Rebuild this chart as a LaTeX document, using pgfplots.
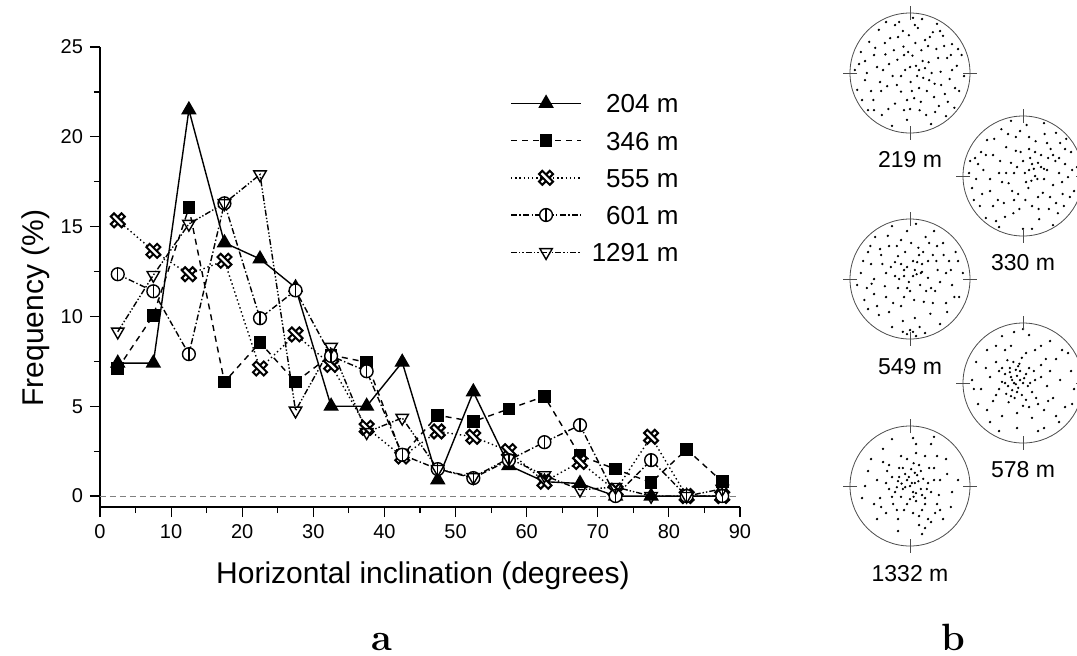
\documentclass[border=0pt]{standalone}
\usepackage{fontspec}
\usepackage{pgfplots}
\pgfplotsset{compat=1.18}
\newfontfamily\arial{Liberation Sans}
\newcommand{\tickfont}{\arial\fontsize{10}{12}\selectfont}
\newcommand{\labelfont}{\arial\fontsize{15}{18}\selectfont}
\newcommand{\legfont}{\arial\fontsize{13}{15}\selectfont}
\newcommand{\netfont}{\arial\fontsize{11.5}{14}\selectfont}

% hollow cross made of two outlined bars (555 m)
\pgfdeclareplotmark{xhatch}{%
  \pgfpathmoveto{\pgfqpoint{0.495\pgfplotmarksize}{0.919\pgfplotmarksize}}%
  \pgfpathlineto{\pgfqpoint{0.919\pgfplotmarksize}{0.495\pgfplotmarksize}}%
  \pgfpathlineto{\pgfqpoint{-0.495\pgfplotmarksize}{-0.919\pgfplotmarksize}}%
  \pgfpathlineto{\pgfqpoint{-0.919\pgfplotmarksize}{-0.495\pgfplotmarksize}}%
  \pgfpathclose
  \pgfusepathqfillstroke
  \pgfpathmoveto{\pgfqpoint{-0.495\pgfplotmarksize}{0.919\pgfplotmarksize}}%
  \pgfpathlineto{\pgfqpoint{-0.919\pgfplotmarksize}{0.495\pgfplotmarksize}}%
  \pgfpathlineto{\pgfqpoint{0.495\pgfplotmarksize}{-0.919\pgfplotmarksize}}%
  \pgfpathlineto{\pgfqpoint{0.919\pgfplotmarksize}{-0.495\pgfplotmarksize}}%
  \pgfpathclose
  \pgfusepathqfillstroke
}
% open circle with a vertical bar (601 m)
\pgfdeclareplotmark{phi}{%
  \pgfpathcircle{\pgfpointorigin}{\pgfplotmarksize}%
  \pgfusepathqfillstroke
  \pgfpathmoveto{\pgfqpoint{0pt}{-\pgfplotmarksize}}%
  \pgfpathlineto{\pgfqpoint{0pt}{\pgfplotmarksize}}%
  \pgfusepathqstroke
}

\pgfplotsset{
  net/.style={scale only axis, width=60pt, height=60pt, xmin=-1, xmax=1,
    ymin=-1, ymax=1, hide axis, anchor=center, clip=false},
  dots/.style={only marks, mark=*, mark size=0.35pt, black},
}

\begin{document}
\begin{tikzpicture}
\path[use as bounding box] (0pt,0pt) rectangle (538.5pt,-327.5pt);

\begin{axis}[
  at={(50pt,-253.5pt)}, anchor=south west,
  scale only axis, width=320pt, height=230pt,
  xmin=0, xmax=90, ymin=-0.61, ymax=25,
  axis lines=left, axis line style={-, line width=0.6pt},
  xtick={0,10,...,90}, minor xtick={5,15,...,85},
  ytick={0,5,...,25}, minor ytick={2.5,7.5,...,22.5},
  tick align=outside, major tick length=5pt, minor tick length=3pt,
  tick style={black, line width=0.6pt},
  ticklabel style={font=\tickfont},
  /pgf/number format/assume math mode=true,
  clip=false,
  every axis plot/.append style={black, line width=0.7pt},
  legend cell align=right,
  legend style={at={(0.6406,0.8987)}, anchor=north west, draw=none, fill=none,
    font=\legfont, inner sep=0pt, row sep=9.2pt, column sep=5pt,
    nodes={inner sep=0pt, text height=9.4pt, text depth=0pt}},
  legend image code/.code={%
    \draw[#1, mark repeat=2, mark phase=2] plot coordinates {(0pt,0pt) (17.5pt,0pt) (35pt,0pt)};},
]
\addplot[gray, line width=0.4pt, dash pattern=on 3pt off 2pt, forget plot] coordinates {(0,0) (90,0)};

\addplot[solid, mark=triangle*, mark size=3.8pt, mark options={solid}] coordinates {
  (2.5,7.4) (7.5,7.4) (12.5,21.5) (17.5,14.1) (22.5,13.2) (27.5,11.6)
  (32.5,5.0) (37.5,5.0) (42.5,7.45) (47.5,0.9) (52.5,5.8) (57.5,1.7)
  (62.5,0.8) (67.5,0.7) (72.5,0) (77.5,0) (82.5,0) (87.5,0)};
\addlegendentry{204 m}

\addplot[dash pattern=on 3pt off 2.5pt, mark=square*, mark size=2.8pt, mark options={solid}] coordinates {
  (2.5,7.1) (7.5,10.05) (12.5,16.05) (17.5,6.35) (22.5,8.55) (27.5,6.35)
  (32.5,7.85) (37.5,7.45) (42.5,2.25) (47.5,4.5) (52.5,4.15) (57.5,4.85)
  (62.5,5.55) (67.5,2.25) (72.5,1.5) (77.5,0.75) (82.5,2.6) (87.5,0.8)};
\addlegendentry{346 m}

\addplot[dash pattern=on 0.7pt off 1.4pt, mark=xhatch, mark size=3.8pt, mark options={solid, fill=white, line width=1pt}] coordinates {
  (2.5,15.35) (7.5,13.65) (12.5,12.35) (17.5,13.1) (22.5,7.1) (27.5,9.0)
  (32.5,7.3) (37.5,3.8) (42.5,2.2) (47.5,3.6) (52.5,3.3) (57.5,2.5)
  (62.5,0.8) (67.5,1.9) (72.5,0.3) (77.5,3.3) (82.5,0) (87.5,0)};
\addlegendentry{555 m}

\addplot[dash pattern=on 3pt off 1.2pt on 0.7pt off 1.2pt, mark=phi, mark size=3.2pt, mark options={solid, fill=white}] coordinates {
  (2.5,12.35) (7.5,11.4) (12.5,7.9) (17.5,16.3) (22.5,9.9) (27.5,11.45)
  (32.5,7.8) (37.5,6.95) (42.5,2.3) (47.5,1.5) (52.5,1.0) (57.5,2.0)
  (62.5,3.0) (67.5,3.95) (72.5,0) (77.5,2.0) (82.5,0) (87.5,0)};
\addlegendentry{601 m}

\addplot[dash pattern=on 3pt off 1pt on 0.7pt off 1pt on 0.7pt off 1pt, mark=triangle, mark size=3.6pt, mark options={solid, fill=white, rotate=180}] coordinates {
  (2.5,9.15) (7.5,12.3) (12.5,15.15) (17.5,16.3) (22.5,17.9) (27.5,4.75)
  (32.5,8.3) (37.5,3.55) (42.5,4.35) (47.5,1.5) (52.5,1.05) (57.5,2.1)
  (62.5,1.15) (67.5,0.35) (72.5,0.5) (77.5,0) (82.5,0) (87.5,0.4)};
\addlegendentry{1291 m}
\end{axis}

\node[anchor=base, font=\labelfont] at (211.5pt,-291.5pt) {Horizontal inclination (degrees)};
\node[anchor=base, rotate=90, font=\labelfont] at (21.5pt,-154pt) {Frequency (\%)};

% stereonets
\begin{axis}[net, at={(455pt,-36.5pt)}]
\addplot[dots] coordinates {
  (-0.82,0.35) (-0.75,-0.12) (-0.68,0.52) (-0.61,-0.45) (-0.55,0.10) (-0.52,0.72)
  (-0.47,-0.70) (-0.41,0.31) (-0.38,-0.22) (-0.33,0.58) (-0.29,-0.05) (-0.25,-0.51)
  (-0.21,0.22) (-0.18,0.85) (-0.15,-0.31) (-0.11,0.44) (-0.08,0.05) (-0.05,-0.78)
  (-0.02,0.63) (0.01,-0.15) (0.04,0.29) (0.07,-0.42) (0.10,0.12) (0.13,0.75)
  (0.16,-0.62) (0.19,0.38) (0.22,-0.08) (0.25,0.55) (0.28,-0.30) (0.31,0.18)
  (0.35,-0.85) (0.38,0.68) (0.41,-0.18) (0.44,0.40) (0.48,-0.55) (0.51,0.02)
  (0.55,0.62) (0.58,-0.35) (0.62,0.25) (0.66,-0.10) (0.70,0.48) (0.74,-0.58)
  (0.78,0.12) (0.82,-0.30) (0.86,0.30) (0.90,-0.05) (-0.88,-0.28) (-0.92,0.05)
  (-0.70,-0.62) (-0.30,-0.88) (0.05,0.92) (-0.40,0.85) (0.45,0.82) (0.60,-0.72)
  (-0.15,-0.05) (0.00,0.10) (-0.60,0.30) (0.30,0.45) (-0.48,-0.30) (0.15,-0.25)
  (0.25,0.08) (-0.20,0.60) (0.70,0.05) (-0.75,0.20) (-0.05,-0.45) (0.40,-0.40)
  (-0.65,-0.30) (-0.58,0.42) (-0.45,0.05) (-0.36,-0.60) (-0.27,0.38) (-0.22,-0.20)
  (-0.12,0.70) (-0.10,-0.62) (-0.03,0.35) (0.03,-0.30) (0.09,0.50) (0.12,-0.05)
  (0.18,-0.48) (0.21,0.20) (0.27,-0.70) (0.33,0.60) (0.36,0.00) (0.42,-0.65)
  (0.47,0.25) (0.52,-0.20) (0.57,0.45) (0.63,-0.48) (0.68,0.30) (0.75,-0.25)
  (0.80,0.40) (-0.80,-0.45) (-0.85,0.15) (-0.72,0.00) (-0.50,-0.15) (-0.35,0.15)
  (-0.25,0.80) (0.00,-0.60) (0.08,0.80) (0.20,0.90) (-0.10,0.30) (0.15,0.05)
  (0.32,-0.12) (-0.42,0.50) (0.50,0.70) (-0.60,-0.62)};
\end{axis}
\begin{axis}[net, at={(511.5pt,-88pt)}]
\addplot[dots] coordinates {
  (-0.85,-0.20) (-0.80,0.30) (-0.72,-0.50) (-0.66,0.10) (-0.60,0.60) (-0.55,-0.25)
  (-0.50,0.35) (-0.45,-0.75) (-0.40,0.05) (-0.36,0.78) (-0.32,-0.45) (-0.28,0.48)
  (-0.24,-0.12) (-0.20,0.22) (-0.16,-0.62) (-0.12,0.65) (-0.08,-0.30) (-0.04,0.40)
  (0.00,-0.88) (0.03,0.05) (0.06,0.85) (0.09,-0.20) (0.12,0.30) (0.15,-0.50)
  (0.18,0.12) (0.21,0.58) (0.24,-0.05) (0.27,-0.72) (0.30,0.35) (0.33,-0.28)
  (0.36,0.70) (0.40,0.10) (0.43,-0.55) (0.46,0.45) (0.50,-0.15) (0.54,0.25)
  (0.58,-0.62) (0.62,0.55) (0.66,-0.30) (0.70,0.20) (0.75,-0.02) (0.80,0.40)
  (0.85,-0.25) (0.90,0.15) (-0.90,0.05) (-0.62,-0.70) (-0.20,0.92) (0.35,0.88)
  (0.72,0.62) (0.50,-0.82) (-0.70,0.40) (-0.10,0.15) (0.15,0.20) (0.05,-0.10)
  (-0.35,-0.10) (0.25,-0.35) (-0.50,-0.50) (0.60,0.05) (-0.28,0.05) (0.42,0.30)
  (0.10,0.45) (-0.15,-0.40) (0.68,-0.50) (-0.78,-0.05)
  (-0.75,0.20) (-0.68,-0.30) (-0.62,0.35) (-0.55,-0.05) (-0.48,0.62) (-0.42,-0.40)
  (-0.38,0.25) (-0.30,-0.68) (-0.25,0.70) (-0.18,-0.25) (-0.12,0.42) (-0.06,-0.55)
  (0.00,0.25) (0.04,-0.40) (0.10,0.65) (0.14,-0.08) (0.20,0.40) (0.26,-0.55)
  (0.30,0.15) (0.35,-0.05) (0.40,0.55) (0.45,-0.35) (0.50,0.35) (0.55,-0.45)
  (0.60,0.30) (0.65,-0.10) (0.70,0.45) (0.78,-0.35) (0.82,0.10) (-0.82,-0.40)
  (-0.88,0.25) (-0.40,-0.85) (0.15,-0.88) (-0.05,0.75) (0.55,0.72) (0.20,0.00)
  (0.10,0.10) (0.25,0.22) (0.35,0.12) (-0.15,0.05)};
\end{axis}
\begin{axis}[net, at={(455pt,-139.5pt)}]
\addplot[dots] coordinates {
  (-0.82,0.10) (-0.76,-0.35) (-0.70,0.45) (-0.64,-0.08) (-0.58,0.70) (-0.52,-0.60)
  (-0.46,0.25) (-0.40,-0.30) (-0.35,0.55) (-0.30,-0.80) (-0.25,0.05) (-0.20,0.38)
  (-0.15,-0.45) (-0.10,0.15) (-0.05,0.80) (0.00,-0.20) (0.05,0.30) (0.08,-0.65)
  (0.11,0.08) (0.14,0.52) (0.17,-0.10) (0.20,0.25) (0.23,-0.38) (0.26,0.70)
  (0.30,0.02) (0.34,-0.58) (0.38,0.40) (0.42,-0.20) (0.46,0.15) (0.50,-0.75)
  (0.55,0.60) (0.60,-0.40) (0.65,0.30) (0.70,-0.10) (0.76,0.45) (0.82,-0.30)
  (0.88,0.10) (-0.88,-0.10) (-0.30,0.88) (0.25,-0.90) (0.10,0.92) (-0.05,-0.92)
  (0.00,-0.85) (0.05,-0.88) (-0.60,-0.25) (-0.15,0.25) (0.05,0.05) (-0.05,0.20)
  (0.18,0.10) (-0.20,-0.15) (0.30,0.30) (-0.40,0.10) (0.35,-0.15) (-0.10,-0.30)
  (0.15,0.40) (-0.35,-0.55) (0.60,0.10) (-0.65,0.25) (0.45,0.55) (-0.50,0.50)
  (-0.78,0.30) (-0.72,-0.15) (-0.66,0.55) (-0.60,0.00) (-0.55,-0.45) (-0.48,0.40)
  (-0.42,-0.12) (-0.37,0.72) (-0.32,0.20) (-0.28,-0.40) (-0.22,0.55) (-0.18,0.00)
  (-0.12,-0.70) (-0.08,0.45) (-0.02,-0.05) (0.02,0.60) (0.07,-0.35) (0.12,0.28)
  (0.16,-0.80) (0.22,0.45) (0.27,-0.20) (0.32,0.60) (0.38,-0.40) (0.44,0.30)
  (0.50,-0.05) (0.56,0.40) (0.62,-0.55) (0.68,0.15) (0.74,-0.30) (0.80,0.30)
  (-0.10,0.05) (0.08,0.15) (-0.25,0.28) (0.20,0.12) (-0.05,-0.15) (0.10,-0.95)
  (-0.12,-0.88) (-0.70,-0.50) (0.40,0.80) (-0.15,0.65)};
\end{axis}
\begin{axis}[net, at={(511.5pt,-191.5pt)}]
\addplot[dots] coordinates {
  (-0.20,0.10) (-0.15,0.00) (-0.10,0.12) (-0.25,-0.05) (-0.05,0.05) (-0.18,-0.12)
  (-0.08,-0.08) (-0.30,0.15) (-0.12,0.22) (0.00,0.00) (-0.22,0.25) (0.05,0.15)
  (-0.28,-0.18) (-0.02,-0.20) (0.08,-0.05) (-0.35,0.02) (-0.14,-0.25) (0.10,0.25)
  (-0.16,0.35) (0.15,-0.15) (-0.40,-0.10) (0.20,0.05) (-0.06,0.32) (-0.24,-0.32)
  (0.30,0.30) (-0.45,0.35) (0.25,-0.35) (-0.50,-0.30) (0.40,-0.05) (0.05,0.50)
  (-0.10,-0.50) (0.45,0.20) (-0.55,0.10) (0.35,-0.45) (-0.30,0.55) (0.10,-0.40)
  (0.55,0.40) (-0.35,-0.55) (0.50,-0.25) (0.20,0.55)
  (-0.85,0.05) (-0.82,-0.10) (0.80,0.20) (0.70,-0.40) (-0.60,0.55) (0.45,0.70)
  (-0.15,0.85) (0.25,-0.80) (-0.55,-0.65) (0.75,0.50) (0.10,0.80) (-0.75,-0.35)
  (0.60,-0.65) (-0.35,0.78) (0.85,-0.10)
  (-0.18,0.05) (-0.12,-0.02) (-0.22,0.18) (-0.05,0.20) (-0.10,-0.15) (-0.30,0.00)
  (0.02,0.08) (-0.20,-0.22) (-0.08,0.28) (0.12,0.00) (-0.35,0.25) (0.05,-0.28)
  (-0.26,0.38) (0.18,0.20) (-0.40,0.20) (0.22,-0.25) (-0.45,-0.20) (0.30,0.10)
  (-0.02,0.42) (0.00,-0.38) (0.38,0.40) (-0.62,0.25) (0.42,-0.30) (-0.20,0.62)
  (0.15,-0.58) (-0.60,-0.45) (0.62,0.05) (-0.45,0.62) (0.30,0.62) (0.55,-0.55)
  (-0.70,-0.10) (0.65,0.55) (-0.10,-0.75) (0.35,-0.75) (-0.78,0.35) (0.82,-0.35)
  (0.00,0.90) (-0.40,-0.80)};
\end{axis}
\begin{axis}[net, at={(455pt,-243pt)}]
\addplot[dots] coordinates {
  (0.00,0.00) (-0.05,0.10) (0.08,0.05) (-0.12,-0.05) (0.05,-0.10) (-0.08,0.20)
  (0.12,0.18) (-0.20,0.08) (0.18,-0.05) (-0.15,-0.18) (0.02,0.28) (-0.25,-0.10)
  (0.10,-0.25) (-0.30,0.15) (0.22,0.12) (-0.05,-0.30) (0.25,-0.20) (-0.18,0.30)
  (0.30,0.05) (-0.35,-0.05) (0.06,0.38) (-0.10,-0.40) (0.15,0.35) (-0.28,-0.30)
  (0.35,-0.10) (-0.38,0.25) (0.20,-0.40) (-0.02,0.15) (0.10,-0.12) (-0.14,0.04)
  (0.40,0.30) (-0.45,0.40) (0.45,-0.30) (-0.50,-0.20) (0.10,0.55) (-0.20,-0.55)
  (0.30,-0.55) (-0.40,-0.45) (0.50,0.10) (-0.55,0.10) (0.25,0.50) (0.35,-0.60)
  (0.15,-0.65) (-0.15,0.50)
  (0.60,0.45) (-0.75,0.00) (-0.65,0.45) (0.70,-0.10) (0.05,0.80) (-0.30,0.78)
  (0.55,-0.55) (0.20,-0.80) (-0.55,-0.55) (0.80,0.10) (-0.80,-0.20) (0.35,0.70)
  (0.03,0.05) (-0.08,-0.02) (0.14,0.08) (-0.18,0.15) (0.06,-0.18) (-0.22,-0.02)
  (0.18,0.25) (-0.12,0.30) (0.28,-0.05) (-0.30,-0.18) (0.00,-0.22) (0.20,-0.15)
  (-0.40,0.05) (0.08,0.22) (-0.05,0.45) (0.25,-0.30) (-0.22,-0.40) (0.40,0.10)
  (-0.35,0.35) (0.32,0.30) (0.15,-0.50) (-0.48,-0.35) (0.48,-0.15) (0.05,-0.45)
  (0.42,-0.45) (0.25,-0.70) (0.50,-0.40) (0.45,0.50) (-0.60,-0.30) (0.62,0.20)
  (-0.45,0.62) (0.10,0.70) (-0.70,0.25) (0.68,-0.35) (-0.20,-0.75) (0.40,0.82)};
\end{axis}

\foreach \cx/\cy in {455pt/-36.5pt, 511.5pt/-88pt, 455pt/-139.5pt, 511.5pt/-191.5pt, 455pt/-243pt} {
  \begin{scope}[shift={(\cx,\cy)}, black!70, line width=0.4pt]
    \draw (0,0) circle[radius=30pt];
    \foreach \a in {0,90,180,270} \draw (\a:26.5pt) -- (\a:33.5pt);
  \end{scope}
}

\node[font=\netfont] at (455pt,-80pt) {219 m};
\node[font=\netfont] at (511.5pt,-131.5pt) {330 m};
\node[font=\netfont] at (455pt,-183.5pt) {549 m};
\node[font=\netfont] at (511.5pt,-235pt) {578 m};
\node[font=\netfont] at (455pt,-287pt) {1332 m};

\node[anchor=base, font=\fontsize{19}{22}\selectfont\bfseries] at (191pt,-325pt) {a};
\node[anchor=base, font=\fontsize{19}{22}\selectfont\bfseries] at (476.5pt,-325pt) {b};
\end{tikzpicture}
\end{document}
